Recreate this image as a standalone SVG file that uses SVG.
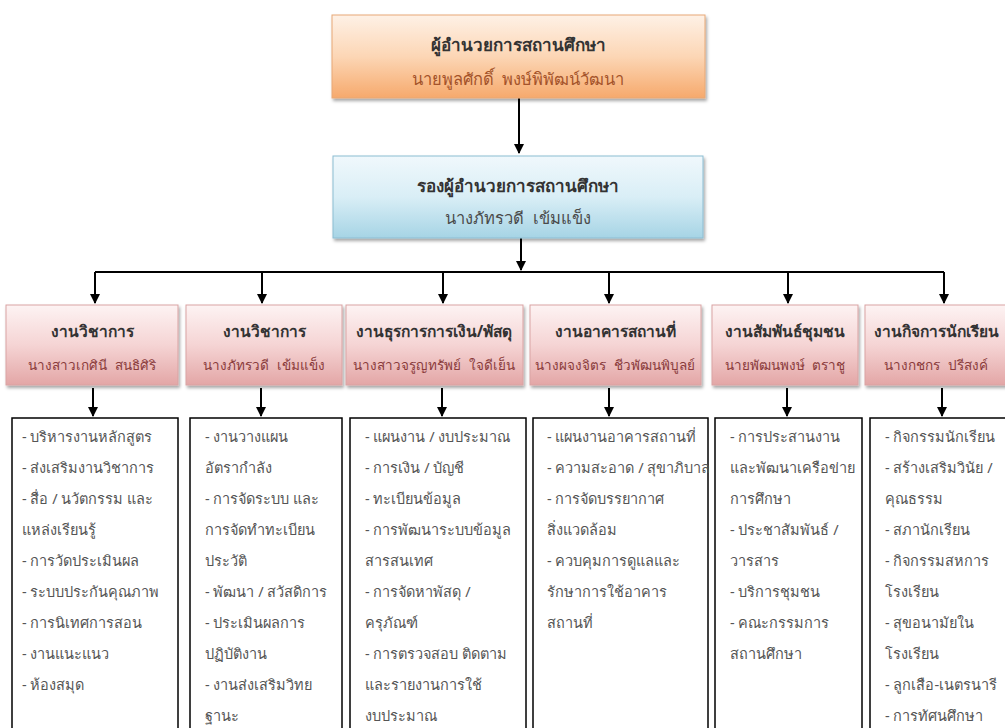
<svg xmlns="http://www.w3.org/2000/svg" width="1005" height="728" viewBox="0 0 1005 728">
<defs>
<linearGradient id="gOrange" x1="0" y1="0" x2="0" y2="1"><stop offset="0" stop-color="#fef1e6"/><stop offset="0.5" stop-color="#fcd6b5"/><stop offset="1" stop-color="#f6a96c"/></linearGradient>
<linearGradient id="gBlue" x1="0" y1="0" x2="0" y2="1"><stop offset="0" stop-color="#f0f8fc"/><stop offset="0.5" stop-color="#d9eef6"/><stop offset="1" stop-color="#a6d4e5"/></linearGradient>
<linearGradient id="gPink" x1="0" y1="0" x2="0" y2="1"><stop offset="0" stop-color="#fdf3f3"/><stop offset="0.5" stop-color="#f5d4d4"/><stop offset="1" stop-color="#e3a6a6"/></linearGradient>
<marker id="arr" viewBox="0 0 10 10" refX="9" refY="5" markerWidth="5" markerHeight="5" orient="auto" markerUnits="strokeWidth"><path d="M0,0 L10,5 L0,10 z" fill="#000"/></marker>
<filter id="sh" x="-5%" y="-5%" width="115%" height="125%"><feDropShadow dx="1.5" dy="2.5" stdDeviation="1.5" flood-color="#000" flood-opacity="0.35"/></filter>
</defs>
<style>
text{font-family:"Noto Sans","DejaVu Sans",sans-serif;}
.title{font-size:17px;font-weight:bold;fill:#333;text-anchor:middle;}
.name{font-size:16.5px;text-anchor:middle;}
.htitle{font-size:15.5px;font-weight:bold;fill:#333;text-anchor:middle;}
.hname{font-size:13.5px;fill:#8a3b3b;text-anchor:middle;}
.item{font-size:14.5px;fill:#555;}
.pink{fill:url(#gPink);stroke:#d9a3a3;stroke-width:1;}
.list{fill:#fff;stroke:#000;stroke-width:1.5;}
.conn{stroke:#000;stroke-width:2;fill:none;}
</style>
<rect width="1005" height="728" fill="#fff"/>

<g id="connectors">
<line class="conn" x1="519" y1="98" x2="519" y2="153" marker-end="url(#arr)"/>
<line class="conn" x1="521" y1="238" x2="521" y2="270" marker-end="url(#arr)"/>
<line class="conn" x1="95" y1="272" x2="944" y2="272"/>
<line class="conn" x1="95" y1="272" x2="95" y2="303" marker-end="url(#arr)"/>
<line class="conn" x1="262" y1="272" x2="262" y2="303" marker-end="url(#arr)"/>
<line class="conn" x1="443" y1="272" x2="443" y2="303" marker-end="url(#arr)"/>
<line class="conn" x1="609" y1="272" x2="609" y2="303" marker-end="url(#arr)"/>
<line class="conn" x1="788" y1="272" x2="788" y2="303" marker-end="url(#arr)"/>
<line class="conn" x1="944" y1="272" x2="944" y2="303" marker-end="url(#arr)"/>
<line class="conn" x1="93" y1="388" x2="93" y2="416" marker-end="url(#arr)"/>
<line class="conn" x1="261" y1="388" x2="261" y2="416" marker-end="url(#arr)"/>
<line class="conn" x1="442" y1="388" x2="442" y2="416" marker-end="url(#arr)"/>
<line class="conn" x1="609" y1="388" x2="609" y2="416" marker-end="url(#arr)"/>
<line class="conn" x1="787" y1="388" x2="787" y2="416" marker-end="url(#arr)"/>
<line class="conn" x1="942" y1="388" x2="942" y2="416" marker-end="url(#arr)"/>
</g>

<g id="director">
<rect x="332" y="15" width="373" height="83" fill="url(#gOrange)" stroke="#e7a877" filter="url(#sh)"/>
<text class="title" x="518" y="51">ผู้อำนวยการสถานศึกษา</text>
<text class="name" x="518" y="85" fill="#a4532a">นายพูลศักดิ์&#160; พงษ์พิพัฒน์วัฒนา</text>
</g>

<g id="deputy">
<rect x="333" y="156" width="370" height="82" fill="url(#gBlue)" stroke="#8cbdd2" filter="url(#sh)"/>
<text class="title" x="518" y="192">รองผู้อำนวยการสถานศึกษา</text>
<text class="name" x="518" y="224" fill="#4a4a4a">นางภัทรวดี&#160; เข้มแข็ง</text>
</g>

<g id="h1"><rect class="pink" x="6" y="305" width="172" height="80" filter="url(#sh)"/>
<text class="htitle" x="92" y="337">งานวิชาการ</text><text class="hname" x="92" y="370">นางสาวเกศินี&#160; สนธิศิริ</text></g>
<g id="h2"><rect class="pink" x="186" y="305" width="156" height="80" filter="url(#sh)"/>
<text class="htitle" x="264" y="337">งานวิชาการ</text><text class="hname" x="264" y="370">นางภัทรวดี&#160; เข้มแข็ง</text></g>
<g id="h3"><rect class="pink" x="346" y="305" width="177" height="80" filter="url(#sh)"/>
<text class="htitle" x="434" y="337">งานธุรการการเงิน/พัสดุ</text><text class="hname" x="434" y="370">นางสาวจรูญทรัพย์&#160; ใจดีเย็น</text></g>
<g id="h4"><rect class="pink" x="530" y="305" width="171" height="80" filter="url(#sh)"/>
<text class="htitle" x="615" y="337">งานอาคารสถานที่</text><text class="hname" x="615" y="370">นางผจงจิตร&#160; ชีวพัฒนพิบูลย์</text></g>
<g id="h5"><rect class="pink" x="712" y="305" width="146" height="80" filter="url(#sh)"/>
<text class="htitle" x="785" y="337">งานสัมพันธ์ชุมชน</text><text class="hname" x="785" y="370">นายพัฒนพงษ์&#160; ตราชู</text></g>
<g id="h6"><rect class="pink" x="865" y="305" width="150" height="80" filter="url(#sh)"/>
<text class="htitle" x="936" y="337">งานกิจการนักเรียน</text><text class="hname" x="936" y="370">นางกชกร&#160; ปรีสงค์</text></g>

<g id="l1"><rect class="list" x="12" y="418" width="166" height="320"/>
<text class="item" x="22" y="442">- บริหารงานหลักสูตร</text>
<text class="item" x="22" y="473">- ส่งเสริมงานวิชาการ</text>
<text class="item" x="22" y="504">- สื่อ / นวัตกรรม และ</text>
<text class="item" x="22" y="535">แหล่งเรียนรู้</text>
<text class="item" x="22" y="566">- การวัดประเมินผล</text>
<text class="item" x="22" y="597">- ระบบประกันคุณภาพ</text>
<text class="item" x="22" y="628">- การนิเทศการสอน</text>
<text class="item" x="22" y="659">- งานแนะแนว</text>
<text class="item" x="22" y="690">- ห้องสมุด</text>
</g>
<g id="l2"><rect class="list" x="190" y="418" width="152" height="320"/>
<text class="item" x="205" y="442">- งานวางแผน</text>
<text class="item" x="205" y="473">อัตรากำลัง</text>
<text class="item" x="205" y="504">- การจัดระบบ และ</text>
<text class="item" x="205" y="535">การจัดทำทะเบียน</text>
<text class="item" x="205" y="566">ประวัติ</text>
<text class="item" x="205" y="597">- พัฒนา / สวัสดิการ</text>
<text class="item" x="205" y="628">- ประเมินผลการ</text>
<text class="item" x="205" y="659">ปฏิบัติงาน</text>
<text class="item" x="205" y="690">- งานส่งเสริมวิทย</text>
<text class="item" x="205" y="721">ฐานะ</text>
</g>
<g id="l3"><rect class="list" x="350" y="418" width="176" height="320"/>
<text class="item" x="365" y="442">- แผนงาน / งบประมาณ</text>
<text class="item" x="365" y="473">- การเงิน / บัญชี</text>
<text class="item" x="365" y="504">- ทะเบียนข้อมูล</text>
<text class="item" x="365" y="535">- การพัฒนาระบบข้อมูล</text>
<text class="item" x="365" y="566">สารสนเทศ</text>
<text class="item" x="365" y="597">- การจัดหาพัสดุ /</text>
<text class="item" x="365" y="628">ครุภัณฑ์</text>
<text class="item" x="365" y="659">- การตรวจสอบ ติดตาม</text>
<text class="item" x="365" y="690">และรายงานการใช้</text>
<text class="item" x="365" y="721">งบประมาณ</text>
</g>
<g id="l4"><rect class="list" x="533" y="418" width="175" height="320"/>
<text class="item" x="547" y="442">- แผนงานอาคารสถานที่</text>
<text class="item" x="547" y="473">- ความสะอาด / สุขาภิบาล</text>
<text class="item" x="547" y="504">- การจัดบรรยากาศ</text>
<text class="item" x="547" y="535">สิ่งแวดล้อม</text>
<text class="item" x="547" y="566">- ควบคุมการดูแลและ</text>
<text class="item" x="547" y="597">รักษาการใช้อาคาร</text>
<text class="item" x="547" y="628">สถานที่</text>
</g>
<g id="l5"><rect class="list" x="715" y="418" width="147" height="320"/>
<text class="item" x="730" y="442">- การประสานงาน</text>
<text class="item" x="730" y="473">และพัฒนาเครือข่าย</text>
<text class="item" x="730" y="504">การศึกษา</text>
<text class="item" x="730" y="535">- ประชาสัมพันธ์ /</text>
<text class="item" x="730" y="566">วารสาร</text>
<text class="item" x="730" y="597">- บริการชุมชน</text>
<text class="item" x="730" y="628">- คณะกรรมการ</text>
<text class="item" x="730" y="659">สถานศึกษา</text>
</g>
<g id="l6"><rect class="list" x="870" y="418" width="145" height="320"/>
<text class="item" x="885" y="442">- กิจกรรมนักเรียน</text>
<text class="item" x="885" y="473">- สร้างเสริมวินัย /</text>
<text class="item" x="885" y="504">คุณธรรม</text>
<text class="item" x="885" y="535">- สภานักเรียน</text>
<text class="item" x="885" y="566">- กิจกรรมสหการ</text>
<text class="item" x="885" y="597">โรงเรียน</text>
<text class="item" x="885" y="628">- สุขอนามัยใน</text>
<text class="item" x="885" y="659">โรงเรียน</text>
<text class="item" x="885" y="690">- ลูกเสือ-เนตรนารี</text>
<text class="item" x="885" y="721">- การทัศนศึกษา</text>
</g>
</svg>
